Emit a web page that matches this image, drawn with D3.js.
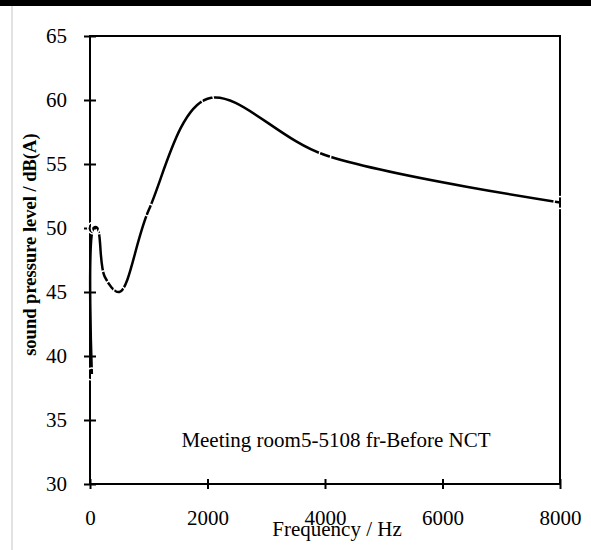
<!DOCTYPE html>
<html>
<head>
<meta charset="utf-8">
<script src="https://cdn.jsdelivr.net/npm/d3@7"></script>
<style>
  body { margin: 0; background: #fff; }
  svg text { font-family: "Liberation Serif", "Times New Roman", serif; }
</style>
</head>
<body>
<div id="chart"></div>
<script>
// octave band centre frequencies and measured levels
const frequencies = [31.5, 63, 125, 250, 500, 1000, 2000, 4000, 8000];
const levels = [38.6, 50.0, 50.0, 46.2, 45.0, 51.4, 60.1, 55.7, 52.0];
const xTicks = [0, 2000, 4000, 6000, 8000];
const yTicks = [30, 35, 40, 45, 50, 55, 60, 65];
const seriesName = "Meeting room5-5108 fr-Before NCT";

const W = 591, H = 550;
const margin = {top: 36, right: 31, bottom: 66, left: 90};
const width = W - margin.left - margin.right;
const height = H - margin.top - margin.bottom;

const root = d3.select("#chart").append("svg")
    .attr("width", W)
    .attr("height", H);

// top black bar and light left edge
root.append("rect").attr("x", 0).attr("y", 0).attr("width", W).attr("height", 6).attr("fill", "#000");
root.append("rect").attr("x", 11).attr("y", 6).attr("width", 2).attr("height", H - 6).attr("fill", "#e2e2e2");

const svg = root.append("g")
    .attr("transform", `translate(${margin.left},${margin.top})`);

const x = d3.scaleLinear().domain([0, 8000]).range([0, width]);
const y = d3.scaleLinear().domain([30, 65]).range([height, 0]);

// frame
svg.append("rect")
    .attr("width", width)
    .attr("height", height)
    .attr("fill", "none")
    .attr("stroke", "#000")
    .attr("stroke-width", 2);

// x axis
const xAxis = svg.append("g")
    .attr("transform", `translate(0,${height})`)
    .call(d3.axisBottom(x).tickValues(xTicks).tickSize(5).tickFormat(d3.format("d")));
xAxis.select(".domain").remove();
xAxis.selectAll(".tick line").attr("y1", -5).attr("stroke-width", 2);
xAxis.selectAll(".tick text")
    .attr("y", 41)
    .attr("dy", 0)
    .style("font-size", "21px")
    .attr("fill", "#000");

// y axis
const yAxis = svg.append("g")
    .call(d3.axisLeft(y).tickValues(yTicks).tickSize(6));
yAxis.select(".domain").remove();
yAxis.selectAll(".tick line").attr("x1", 6).attr("x2", -6).attr("stroke-width", 2);
yAxis.selectAll(".tick text")
    .attr("x", -23)
    .style("font-size", "21px")
    .attr("fill", "#000");

// smoothed line
const line = d3.line()
    .x((d, i) => x(frequencies[i]))
    .y(d => y(d))
    .curve(d3.curveCatmullRom.alpha(0.5));

svg.append("path")
    .datum(levels)
    .attr("fill", "none")
    .attr("stroke", "#000")
    .attr("stroke-width", 2.5)
    .attr("d", line);

// white marker rings at data points
svg.append("g")
    .selectAll("circle")
    .data(levels)
    .enter()
    .append("circle")
    .attr("cx", (d, i) => x(frequencies[i]))
    .attr("cy", d => y(d))
    .attr("r", 6)
    .attr("fill", "none")
    .attr("stroke", "#fff")
    .attr("stroke-width", 1.5);

// series label
svg.append("text")
    .attr("x", 246)
    .attr("y", 411)
    .attr("text-anchor", "middle")
    .style("font-size", "21px")
    .text(seriesName);

// axis titles
svg.append("text")
    .attr("x", 247)
    .attr("y", height + 52)
    .attr("text-anchor", "middle")
    .style("font-size", "21px")
    .text("Frequency / Hz");

svg.append("text")
    .attr("transform", `translate(-54,${y(48.7)}) rotate(-90)`)
    .attr("text-anchor", "middle")
    .style("font-size", "18.5px")
    .style("font-weight", "bold")
    .text("sound pressure level / dB(A)");
</script>
</body>
</html>
